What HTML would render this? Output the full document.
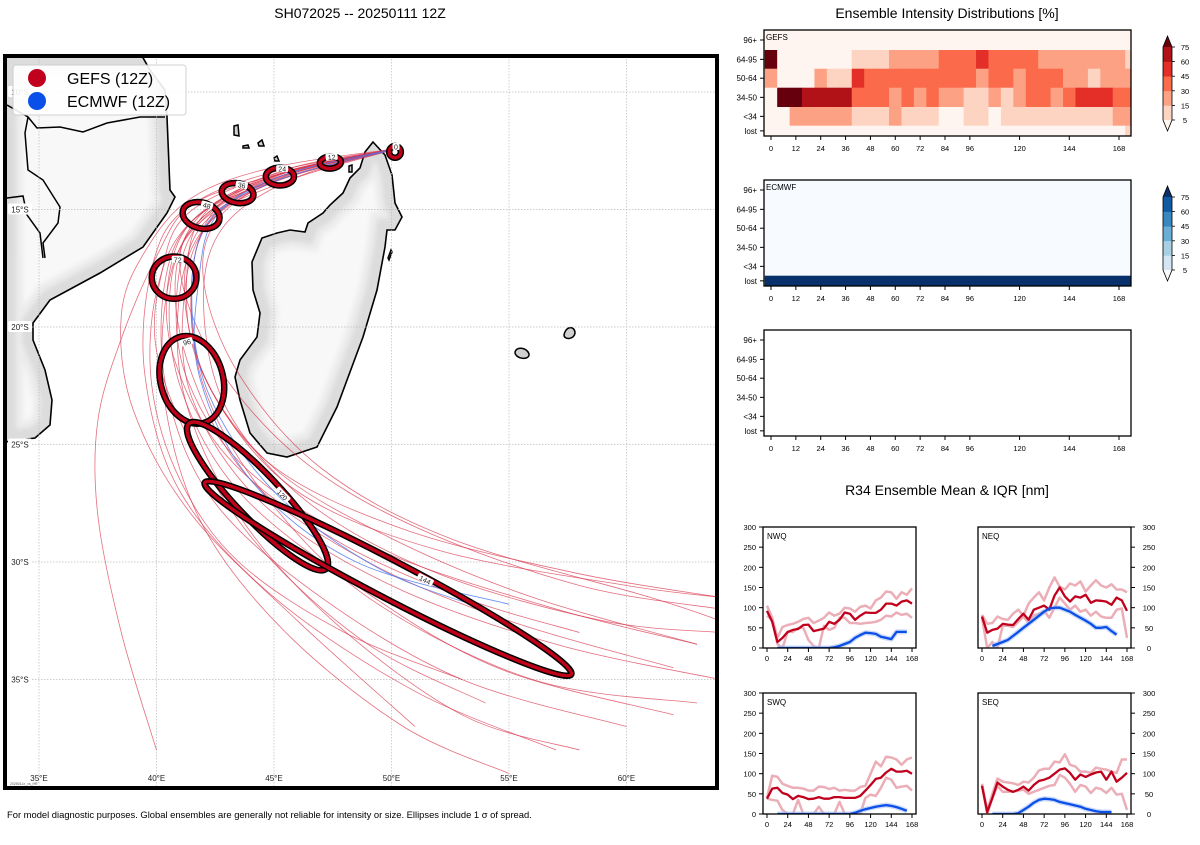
<!DOCTYPE html>
<html><head><meta charset="utf-8"><style>
body{margin:0;background:#fff;}
svg text{font-family:"Liberation Sans","DejaVu Sans",sans-serif;}
</style></head><body>
<svg id="root" width="1200" height="840" viewBox="0 0 1200 840" xmlns="http://www.w3.org/2000/svg">
<defs>
<clipPath id="mapclip"><rect x="7" y="58" width="708" height="728"/></clipPath>
<filter id="halo" x="-20%" y="-20%" width="140%" height="140%"><feGaussianBlur stdDeviation="2.5"/></filter>
</defs>
<text x="360" y="18" font-size="14" text-anchor="middle">SH072025 -- 20250111 12Z</text>
<text x="947" y="18" font-size="14" text-anchor="middle">Ensemble Intensity Distributions [%]</text>
<text x="947" y="495" font-size="14" text-anchor="middle">R34 Ensemble Mean &amp; IQR [nm]</text>
<text x="7" y="818" font-size="9.4">For model diagnostic purposes. Global ensembles are generally not reliable for intensity or size. Ellipses include 1 σ of spread.</text>
<g id="map"></g>
<g id="heat"></g>
<g id="r34"></g>
</svg>
<script>
// ---------- data ----------
const hours = [0,6,12,18,24,30,36,42,48,54,60,66,72,78,84,90,96,102,108,114,120,126,132,138,144,150,156,162,168];
const xTickLabels = [0,12,24,36,48,60,72,84,96,120,144,168];
const intensityRows = ["96+","64-95","50-64","34-50","<34","lost"];
const cbLevels = [5,15,30,45,60,75];
const gefs96 = [0,0,0,0,0,0,0,0,0,0,0,0,0,0,0,0,0,0,0,0,0,0,0,0,0,0,0,0,0,0];
const gefs64 = [80,0,0,0,0,0,0,10,10,10,20,20,20,20,35,35,35,50,35,35,35,35,20,20,20,20,20,20,20,10];
const gefs50 = [20,0,0,0,20,10,10,50,35,35,35,35,35,35,35,35,35,20,35,35,20,35,35,35,20,20,10,20,20,20];
const gefs34 = [0,80,80,65,65,65,65,35,35,35,20,35,20,35,20,20,10,10,20,10,20,35,35,20,35,50,50,50,35,35];
const gefsLt34 = [0,0,20,20,20,20,20,10,10,10,20,10,10,10,0,0,10,10,0,10,10,10,10,10,10,10,10,10,20,20];
const gefsLost = [0,0,0,0,0,0,0,0,0,0,0,0,0,0,0,0,0,0,0,0,0,0,0,0,0,0,0,0,0,10];
const ecmfLost = [80,80,80,80,80,80,80,80,80,80,80,80,80,80,80,80,80,80,80,80,80,80,80,80,80,80,80,80,80,80];
const r34Ticks = [0,50,100,150,200,250,300];
const r34XTicks = [0,24,48,72,96,120,144,168];
const nwqMean = [92,65,15,25,40,45,47,57,58,42,45,48,65,60,70,88,85,70,80,88,87,87,95,110,110,105,115,118,110];
const nwqHi = [105,75,25,52,57,60,65,72,75,62,68,75,88,80,85,100,98,90,102,105,98,118,125,140,138,122,138,132,148];
const nwqLo = [80,70,10,0,40,40,50,50,20,5,0,55,45,50,75,75,62,62,60,62,63,65,70,80,78,88,82,85,75];
const nwqEc = [null,null,0,0,0,0,0,0,0,0,0,0,0,2,5,10,15,25,32,38,37,35,28,25,22,40,40,40,null];
const neqMean = [78,38,45,48,60,58,57,72,85,70,95,100,105,95,130,150,128,115,128,125,132,112,118,117,115,107,125,118,92];
const neqHi = [82,60,62,78,72,70,85,95,80,110,125,138,118,150,175,152,145,160,155,165,140,155,168,155,150,158,145,145,138];
const neqLo = [75,0,15,0,55,55,52,65,78,62,80,85,92,75,100,125,110,95,105,90,95,80,90,78,75,75,95,98,25];
const neqEc = [null,null,5,10,15,20,30,40,50,60,70,80,90,98,100,100,95,90,82,75,68,60,50,50,52,42,33,null,null];
const swqMean = [38,63,65,52,48,37,45,42,37,38,42,38,38,42,42,40,40,40,45,58,72,87,90,103,112,105,105,107,100];
const swqHi = [40,95,92,75,70,65,65,63,58,58,68,67,62,65,58,60,58,58,67,70,100,130,118,142,140,135,122,135,140];
const swqLo = [38,35,33,10,0,0,35,0,0,0,18,0,0,0,30,0,0,0,0,40,48,45,65,90,85,65,68,70,58];
const swqEc = [null,null,0,0,0,0,0,0,0,0,0,0,0,0,0,0,0,3,8,12,15,18,20,22,20,17,13,8,null];
const seqMean = [70,5,40,78,68,60,55,60,68,58,72,82,85,90,100,110,113,102,85,98,92,98,103,105,85,105,80,90,102];
const seqHi = [75,10,50,88,80,78,76,72,80,78,90,108,112,112,130,128,148,122,118,105,105,102,115,112,110,105,102,135,135];
const seqLo = [72,0,40,70,55,55,55,58,60,50,55,60,65,70,72,97,90,75,55,72,68,52,65,62,52,65,48,50,10];
const seqEc = [null,null,0,0,0,0,0,2,10,18,28,35,38,37,35,30,27,24,21,18,13,10,7,5,5,5,null,null,null];
// map data (lon E, lat S)
const lonTicks = [35,40,45,50,55,60];
const latTicks = [10,15,20,25,30,35];
const trackStart = [50.3,12.4];
const gefsTracks = [
[[45.2,13.5],[41.9,15.2],[40.8,18],[41.5,22],[44,26.5],[49,30],[55,32.5],[62,34.5]],
[[45.5,13.3],[42.5,15],[41.5,18],[42,22],[45,26],[50,29],[56,31.5],[63,33.5]],
[[45,13.8],[41.5,15.5],[40.3,18.5],[40.5,23],[42.5,27.5],[47,31.5],[53,35],[60,37]],
[[45.3,13.6],[42,15.3],[41,17.5],[42.5,21.5],[46,25.5],[51,28.5],[58,31],[64,32]],
[[44.8,13.6],[41.2,15],[39.8,17.5],[39.5,22],[41,27],[45,31.5],[51,35.5],[57,38]],
[[45.5,13.5],[42.3,15.5],[41.2,18.5],[41.5,23],[44.5,27.5],[50,31],[57,33.5],[64,35]],
[[45,13.4],[41.5,14.8],[40,17],[38.5,20.5],[37.5,24],[37.5,28],[38.5,33],[40,38]],
[[45.8,13.7],[42.8,15.8],[42,19],[43,23.5],[46.5,27.5],[52,30.5],[59,32.5],[64,33]],
[[45.2,13.5],[41.8,15.5],[40.6,18.2],[41,22.5],[43.5,27],[48.5,31],[54.5,34.5],[62,36.5]],
[[45,13.2],[41.5,14.5],[39.5,16.8],[38.5,19.5],[39,23.5],[41.5,28],[46,32.5],[51,37]],
[[45.5,13.8],[42,15.6],[41.2,18.8],[42.5,23],[46,27],[52,29.5],[60,31],[64,31.5]],
[[45.2,13.6],[41.7,15.3],[40.5,18],[40.8,21.5],[43,25.5],[47.5,29],[53,31.5],[58,33]],
[[45.6,13.4],[42.5,15.2],[41.5,18],[42,22.5],[44.5,27],[49,31.5],[56,35],[63,36]],
[[45.3,13.7],[42.2,15.6],[41,18.5],[41.2,23],[43.5,28],[47.5,32.5],[53,36.5],[58,38]],
[[45,13.5],[41.3,15.2],[40.2,17.8],[40,21],[41.5,25],[44.5,29.5],[49,33.5],[54,36]],
[[45.7,13.5],[42.7,15.3],[42,18],[43.5,22],[47,26],[52.5,29],[61,31.5],[64,32.5]],
[[45.4,13.6],[42,15.4],[40.9,18.2],[41.3,22.2],[44,26.2],[49.5,29.5],[57,32],[63,33.5]],
[[45.1,13.8],[41.6,15.8],[40.4,18.8],[40.4,23.5],[42,28.5],[45.5,33],[50.5,37],[55,39]],
[[45.5,13.4],[42.2,15],[41.3,17.6],[41.8,21.6],[44.8,25.8],[50.5,28.6],[58,30.5],[64,31.5]],
[[45,13.6],[41.4,15.6],[40,18.5],[39.8,22.5],[41,26.5],[43.5,30],[48,33],[53,35]]
];
const ecmfTracks = [
[[45.5,13.5],[42.6,15.2],[41.8,18],[41.8,22],[44,26.5],[48.5,30],[55,31.8]],
[[45.3,13.7],[42.3,15.4],[41.5,18.5],[42.2,22.8],[45,27],[49.5,30.3],[54,32]]
];
// ellipses: hour, lon, lat, semi-axes (deg), rotation (deg)
const ellHours = [0,12,24,36,48,72,96,120,144];
const ellLon = [50.15,47.4,45.25,43.45,41.9,40.75,41.5,44.3,49.85];
const ellLat = [12.55,13.0,13.6,14.3,15.25,17.9,22.25,27.2,30.7];
const ellA = [0.25,0.45,0.6,0.68,0.8,0.95,1.33,4.25,8.8];
const ellB = [0.25,0.26,0.38,0.42,0.55,0.9,1.9,0.95,0.8];
const ellRot = [0,-5,0,10,15,0,-15,46.6,27.6];

// ---------- helpers ----------
const NS='http://www.w3.org/2000/svg';
function mk(tag,attrs,parent){const e=document.createElementNS(NS,tag);for(const k in attrs)e.setAttribute(k,attrs[k]);if(parent)parent.appendChild(e);return e;}
function txt(s,attrs,parent){const e=mk('text',attrs,parent);e.textContent=s;return e;}
const lonX = lon => 39 + (lon-35)*23.5;
const latY = lat => 92 + (lat-10)*23.5;

// ---------- map ----------
const map=document.getElementById('map');
const mframe=mk('rect',{x:5,y:56,width:712,height:732,fill:'#fff'},map);


const inner=mk('g',{'clip-path':'url(#mapclip)'},map);
const africa="M5,56 L142,56 L150,70 L165,90 L167,117 L170,190 L175,197 L167,213 L143,247 L100,273 L50,300 L33,323 L33,340 L45,370 L52,400 L50,425 L35,438 L5,442 Z";
const madag="M373,142 L385,155 L392,175 L395,203 L402,217 L395,230 L387,230 L385,247 L377,290 L363,337 L337,407 L317,447 L287,457 L267,453 L250,433 L240,400 L235,377 L240,360 L257,337 L260,313 L253,290 L252,262 L262,238 L277,233 L290,230 L305,232 L308,223 L323,213 L330,205 L343,193 L350,178 L360,168 L365,152 Z";
const islands=["M234,126 L238,125 L239,136 L234,135 Z","M243,146 L248,145 L249,148 L243,148 Z","M258,143 L262,140 L264,146 L259,146 Z","M274,158 L277,156 L279,161 L275,161 Z","M349,166 L352,165 L352,172 L349,172 Z","M515,353 C515,346 527,347 529,354 C530,360 517,360 515,353 Z","M564,335 C566,325 575,326 575,333 C574,340 564,340 564,335 Z","M388,258 L391,250 L392,252 L389,260 Z"];
const defs=document.querySelector('defs');
[africa,madag].forEach(function(d,i){
  const cp=mk('clipPath',{id:'land'+i},defs);mk('path',{d:d},cp);
  const lf=mk('path',{d:d,fill:'#f8f8f8'},inner);
  
  
  const hg=mk('g',{'clip-path':'url(#land'+i+')'},inner);
  const h=mk('path',{d:d,fill:'none',stroke:'#cfcfcf','stroke-width':22,filter:'url(#halo)'},hg);
  
  
  const h2=mk('path',{d:d,fill:'none',stroke:'#e4e4e4','stroke-width':36,filter:'url(#halo)',opacity:0.6},hg);
  
  
  const c=mk('path',{d:d,fill:'none',stroke:'#000','stroke-width':1.6},inner);
  
  
});
islands.forEach(function(d){
  const p=mk('path',{d:d,fill:'#d0d0d0',stroke:'#000','stroke-width':1.5},inner);
  
  
});
["M7,105 L28,117 L37,128 L60,127 L83,132 L107,123 L140,117 L165,117","M7,198 L23,196 L27,215 L40,233 L43,258","M28,117 L25,133 L28,170 L43,180 L60,207 L58,223 L43,243 L45,258"].forEach(function(d){
  const b=mk('path',{d:d,fill:'none',stroke:'#000','stroke-width':1.5},inner);
  
  
});
// gridlines
lonTicks.forEach(function(l){
  const g=mk('line',{x1:lonX(l),x2:lonX(l),y1:56,y2:788,stroke:'#bbb','stroke-width':0.7,'stroke-dasharray':'1.5,1.5'},inner);
  
  
});
latTicks.forEach(function(l){
  const g=mk('line',{x1:5,x2:717,y1:latY(l),y2:latY(l),stroke:'#bbb','stroke-width':0.7,'stroke-dasharray':'1.5,1.5'},inner);
  
  
});
function smoothPath(pts){
  let d='M'+pts[0][0].toFixed(1)+','+pts[0][1].toFixed(1);
  for(let i=0;i<pts.length-1;i++){
    const p0=pts[Math.max(0,i-1)],p1=pts[i],p2=pts[i+1],p3=pts[Math.min(pts.length-1,i+2)];
    const c1=[p1[0]+(p2[0]-p0[0])/6,p1[1]+(p2[1]-p0[1])/6],c2=[p2[0]-(p3[0]-p1[0])/6,p2[1]-(p3[1]-p1[1])/6];
    d+=' C'+c1[0].toFixed(1)+','+c1[1].toFixed(1)+' '+c2[0].toFixed(1)+','+c2[1].toFixed(1)+' '+p2[0].toFixed(1)+','+p2[1].toFixed(1);
  }
  return d;
}
gefsTracks.forEach(function(t){
  const pts=[trackStart].concat(t).map(p=>[lonX(p[0]),latY(p[1])]);
  const p=mk('path',{d:smoothPath(pts),fill:'none',stroke:'#d83048','stroke-width':0.8,opacity:0.7},inner);
  
  
});
ecmfTracks.forEach(function(t){
  const pts=[trackStart].concat(t).map(p=>[lonX(p[0]),latY(p[1])]);
  const p=mk('path',{d:smoothPath(pts),fill:'none',stroke:'#4a78f0','stroke-width':0.9,opacity:0.8},inner);
  
  
});
ellHours.forEach(function(h,i){
  const cx=lonX(ellLon[i]),cy=latY(ellLat[i]),rx=ellA[i]*23.5,ry=ellB[i]*23.5;
  const g=mk('g',{transform:'translate('+cx.toFixed(1)+','+cy.toFixed(1)+') rotate('+ellRot[i]+')'},inner);
  
  
  mk('ellipse',{cx:0,cy:0,rx:rx,ry:ry,fill:'none',stroke:'#000','stroke-width':6.5},g);
  mk('ellipse',{cx:0,cy:0,rx:rx,ry:ry,fill:'none',stroke:'#c00018','stroke-width':3.5},g);
  const ang=-1.0;
  const lx=rx*Math.cos(ang)*0.3, ly=ry*Math.sin(ang);
  const lb=mk('g',{transform:'translate('+lx.toFixed(1)+','+ly.toFixed(1)+')'},g);
  const n=String(h).length;
  mk('rect',{x:-2.5*n-1,y:-4,width:5*n+2,height:7,fill:'#fff',rx:1.5},lb);
  const t=txt(String(h),{x:0,y:2.5,'font-size':7,'text-anchor':'middle',fill:'#222'},lb);
  
  
});
lonTicks.forEach(function(l){
  const t=txt(l+'°E',{x:lonX(l),y:781,'font-size':8,'text-anchor':'middle',fill:'#222'},map);
  
  
});
latTicks.forEach(function(l){
  mk('rect',{x:8,y:latY(l)-6,width:24,height:11,fill:'#fff',rx:2},map);
  const t=txt(l+'°S',{x:20,y:latY(l)+3,'font-size':8,'text-anchor':'middle',fill:'#222'},map);
  
  
});
const stamp=txt('2025011x_vs_HR',{x:10,y:785,'font-size':3.5,fill:'#555'},map);


const fr=mk('rect',{x:5,y:56,width:712,height:732,fill:'none',stroke:'#000','stroke-width':4},map);


// legend
const leg=mk('g',{},map);


mk('rect',{x:13,y:65,width:173,height:50,fill:'#fff',stroke:'#ccc','stroke-width':1,rx:3,opacity:0.9},leg);
const l1=mk('circle',{cx:37,cy:78,r:9,fill:'#c0001c'},leg);


const l2=mk('circle',{cx:37,cy:101,r:9,fill:'#0a4fe8'},leg);


const lt1=txt('GEFS (12Z)',{x:67,y:84,'font-size':16},leg);


const lt2=txt('ECMWF (12Z)',{x:67,y:107,'font-size':16},leg);



// ---------- heatmaps ----------
const heat=document.getElementById('heat');
const reds=['#fff5f0','#fdd3c1','#fca183','#fb6a4a','#e32f27','#b11218','#67000d'];
const blues=['#f7fbff','#d4e5f4','#a9cfe5','#6aaed6','#3787c0','#0f5aa3','#08306b'];
function colorFor(v,pal){let k=0;for(let i=0;i<cbLevels.length;i++){if(v>=cbLevels[i])k=i+1;}return pal[k];}
const hx0=764, hx1=1131, colW=12.5;
const hourX = h => 771 + h*(1119-771)/168;
const rowEdges=[0,20,38.7,57.7,77,95.7,106];
function heatPanel(y0,label,rows,pal,name){
  const g=mk('g',{},heat);
  
  
  const cid='clip'+name;
  const cp=mk('clipPath',{id:cid},g);mk('rect',{x:hx0,y:y0,width:hx1-hx0,height:106},cp);
  const cells=mk('g',{'clip-path':'url(#'+cid+')'},g);
  if(rows){
    rows.forEach(function(r,ri){
      r.forEach(function(v,ci){
        const c=mk('rect',{x:hourX(ci*6)-colW/2,y:y0+rowEdges[ri],width:colW+0.3,height:rowEdges[ri+1]-rowEdges[ri]+0.3,fill:colorFor(v,pal)},cells);
        
        
      });
    });
  }
  mk('rect',{x:hx0,y:y0,width:hx1-hx0,height:106,fill:'none',stroke:'#000','stroke-width':1.3},g);
  if(label){const t=txt(label,{x:hx0+2,y:y0+10,'font-size':8},g);}
  intensityRows.forEach(function(r,ri){
    const cy=y0+(ri===0?10:(rowEdges[ri]+rowEdges[ri+1])/2);
    mk('line',{x1:hx0-4,x2:hx0,y1:cy,y2:cy,stroke:'#000','stroke-width':1},g);
    const t=txt(r,{x:hx0-7,y:cy+3,'font-size':8,'text-anchor':'end'},g);
    
    
  });
  xTickLabels.forEach(function(h){
    mk('line',{x1:hourX(h),x2:hourX(h),y1:y0+106,y2:y0+110,stroke:'#000','stroke-width':1},g);
    const t=txt(String(h),{x:hourX(h),y:y0+121,'font-size':7.5,'text-anchor':'middle'},g);
    
    
  });
}
heatPanel(30,'GEFS',[gefs96,gefs64,gefs50,gefs34,gefsLt34,gefsLost],reds,'gefs-heatmap');
heatPanel(180,'ECMWF',[gefs96.map(()=>0),gefs96.map(()=>0),gefs96.map(()=>0),gefs96.map(()=>0),gefs96.map(()=>0),ecmfLost],blues,'ecmwf-heatmap');
heatPanel(330,'',null,reds,'empty-heatmap');
function colorbar(y0,pal,name){
  const g=mk('g',{},heat);
  
  
  const x=1163,w=9,top=y0+17,bot=y0+90;
  const step=(bot-top)/5;
  for(let i=0;i<5;i++){mk('rect',{x:x,y:bot-(i+1)*step,width:w,height:step+0.3,fill:pal[i+1]},g);}
  mk('path',{d:'M'+x+','+top+' L'+(x+w/2)+','+(top-11)+' L'+(x+w)+','+top+' Z',fill:pal[6]},g);
  mk('path',{d:'M'+x+','+bot+' L'+(x+w/2)+','+(bot+11)+' L'+(x+w)+','+bot+' Z',fill:pal[0]},g);
  mk('path',{d:'M'+x+','+top+' L'+(x+w/2)+','+(top-11)+' L'+(x+w)+','+top+' L'+(x+w)+','+bot+' L'+(x+w/2)+','+(bot+11)+' L'+x+','+bot+' Z',fill:'none',stroke:'#000','stroke-width':0.8},g);
  cbLevels.forEach(function(v,i){
    const yy=bot-i*step;
    mk('line',{x1:x+w,x2:x+w+3,y1:yy,y2:yy,stroke:'#000','stroke-width':0.8},g);
    const t=txt(String(v),{x:x+w+13,y:yy+3,'font-size':7.5,'text-anchor':'middle'},g);
    
    
  });
}
colorbar(30,reds,'gefs-colorbar');
colorbar(180,blues,'ecmwf-colorbar');

// ---------- R34 panels ----------
const r34=document.getElementById('r34');
function r34Panel(bx,x0,by,label,mean,hi,lo,ec,right,name){
  const g=mk('g',{},r34);
  
  
  const w=153,h=121;
  const X=hr=>x0+hr*145/168, Y=v=>by+h-v*h/300;
  const cid='rc'+name;
  const cp=mk('clipPath',{id:cid},g);mk('rect',{x:bx,y:by,width:w,height:h},cp);
  const inner=mk('g',{'clip-path':'url(#'+cid+')'},g);
  function line(arr,color,sw,op,nm){
    let d='',pen=false;
    arr.forEach(function(v,i){if(v===null){pen=false;return;}d+=(pen?' L':' M')+X(hours[i]).toFixed(1)+','+Y(v).toFixed(1);pen=true;});
    const p=mk('path',{d:d,fill:'none',stroke:color,'stroke-width':sw,opacity:op,'stroke-linejoin':'round'},inner);
    
    
  }
  line(hi,'#e8a0aa',2.5,0.85,'gefs-iqr-upper');
  line(lo,'#e8a0aa',2.5,0.85,'gefs-iqr-lower');
  line(ec,'#a9c0f5',5,0.6,'ecmwf-iqr-band');
  line(mean,'#c0001c',2.3,1,'gefs-mean');
  line(ec,'#0a4fe8',2.3,1,'ecmwf-mean');
  mk('rect',{x:bx,y:by,width:w,height:h,fill:'none',stroke:'#000','stroke-width':1.3},g);
  const lt=txt(label,{x:bx+4,y:by+12,'font-size':8},g);
  
  
  r34Ticks.forEach(function(v){
    const yy=Y(v);
    if(right){
      mk('line',{x1:bx+w,x2:bx+w+4,y1:yy,y2:yy,stroke:'#000','stroke-width':1},g);
      const t=txt(String(v),{x:bx+w+18,y:yy+3,'font-size':7.5,'text-anchor':'middle'},g);
      
    } else {
      mk('line',{x1:bx-4,x2:bx,y1:yy,y2:yy,stroke:'#000','stroke-width':1},g);
      const t=txt(String(v),{x:bx-7,y:yy+3,'font-size':7.5,'text-anchor':'end'},g);
      
    }
  });
  r34XTicks.forEach(function(hr){
    mk('line',{x1:X(hr),x2:X(hr),y1:by+h,y2:by+h+4,stroke:'#000','stroke-width':1},g);
    const t=txt(String(hr),{x:X(hr),y:by+h+13,'font-size':7.5,'text-anchor':'middle'},g);
    
  });
}
r34Panel(763,767,527,'NWQ',nwqMean,nwqHi,nwqLo,nwqEc,false,'nwq-panel');
r34Panel(978,982,527,'NEQ',neqMean,neqHi,neqLo,neqEc,true,'neq-panel');
r34Panel(763,767,693,'SWQ',swqMean,swqHi,swqLo,swqEc,false,'swq-panel');
r34Panel(978,982,693,'SEQ',seqMean,seqHi,seqLo,seqEc,true,'seq-panel');
</script>
</body></html>
